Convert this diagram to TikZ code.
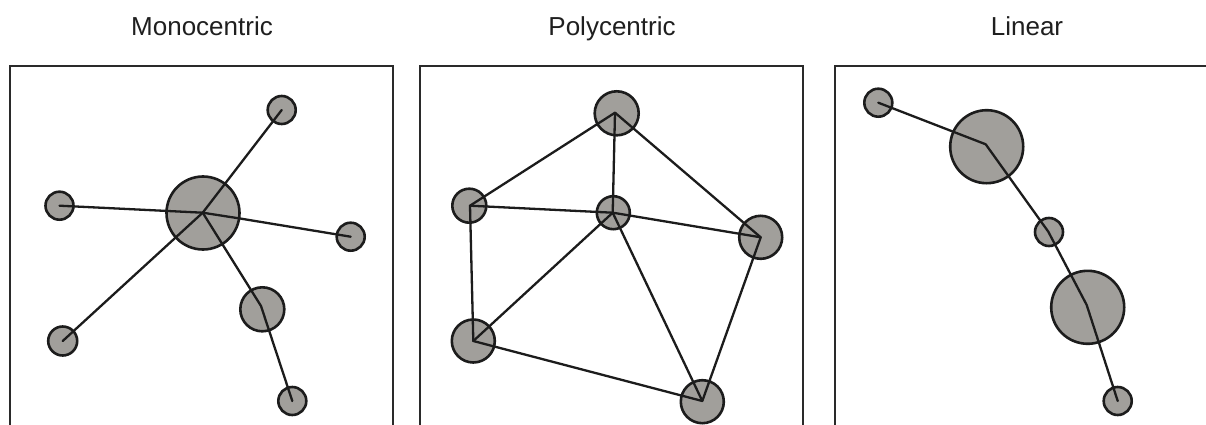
\documentclass[tikz,border=0pt]{standalone}
\usepackage{fontspec}
\setmainfont{Liberation Sans}
\definecolor{hubfill}{HTML}{A19F9B}
\definecolor{ink}{HTML}{1C1C1C}
\definecolor{framecol}{HTML}{2A2A2A}
\begin{document}
\begin{tikzpicture}[x=1pt,y=-1pt,
  town/.style={circle,draw=ink,fill=hubfill,line width=2.6pt,inner sep=0pt,minimum size=#1},
  link/.style={draw=ink,line width=2.3pt,line join=round,line cap=round},
  panel/.style={draw=framecol,line width=2.4pt},
  heading/.style={anchor=base,font=\fontsize{26}{30}\selectfont,text=black!88,inner sep=0pt}]
\useasboundingbox (0,0) rectangle (1206,425);
\fill[white] (0,0) rectangle (1206,425);

% headings
\node[heading] (t1) at (202,35.5) {Monocentric};
\node[heading] (t2) at (612,35.5) {Polycentric};
\node[heading] (t3) at (1027,35.5) {Linear};

% panel frames, open at the bottom edge
\begin{scope}
\clip (0,0) rectangle (1206,425);
\draw[panel] (10,430) -- (10,66) -- (393,66) -- (393,430);
\draw[panel] (420,430) -- (420,66) -- (803,66) -- (803,430);
\draw[panel] (835,430) -- (835,66) -- (1215,66);
\end{scope}

% monocentric
\node[town=73pt] (m0) at (203,213) {};
\node[town=28pt] (m1) at (281.7,110) {};
\node[town=28pt] (m2) at (59.5,205.7) {};
\node[town=28pt] (m3) at (350.7,236.7) {};
\node[town=29pt] (m4) at (62.7,341) {};
\node[town=44pt] (m5) at (262.3,309.3) {};
\node[town=28pt] (m6) at (292.3,401) {};
\coordinate (m0c) at (202.7,212.7);
\coordinate (m5c) at (261,306);
\draw[link] (m0c) -- (m1.center);
\draw[link] (m0c) -- (m2.center);
\draw[link] (m0c) -- (240,218.5) -- (m3.center);
\draw[link] (m0c) -- (m4.center);
\draw[link] (m0c) -- (m5c) -- (m6.center);

% polycentric
\node[town=44pt] (p1) at (616.7,113.3) {};
\node[town=34pt] (p2) at (469.3,205.7) {};
\node[town=33pt] (p3) at (613.3,212.7) {};
\node[town=43pt] (p4) at (760.7,237.3) {};
\node[town=43pt] (p5) at (473.3,341) {};
\node[town=43pt] (p6) at (702.3,401.7) {};
\coordinate (p1c) at (615,112.7);
\coordinate (p2c) at (470,205.7);
\coordinate (p3c) at (612.7,212.7);
\coordinate (p4c) at (760.7,237.3);
\coordinate (p5c) at (473.3,341);
\coordinate (p6c) at (702.3,401);
\draw[link] (p2c) -- (p1c) -- (p4c) -- (p6c) -- (p5c) -- cycle;
\draw[link] (p1c) -- (p3c);
\draw[link] (p2c) -- (p3c) -- (p4c);
\draw[link] (p5c) -- (p3c) -- (p6c);

% linear
\node[town=28pt] (l1) at (878.3,102.7) {};
\node[town=73pt] (l2) at (986.7,146.7) {};
\node[town=28pt] (l3) at (1049,232) {};
\node[town=73pt] (l4) at (1087.7,307.3) {};
\node[town=28pt] (l5) at (1117.7,401) {};
\draw[link] (l1.center) -- (985.7,144.3) -- (1048.3,231.7) -- (1086.7,305) -- (l5.center);
\end{tikzpicture}
\end{document}
